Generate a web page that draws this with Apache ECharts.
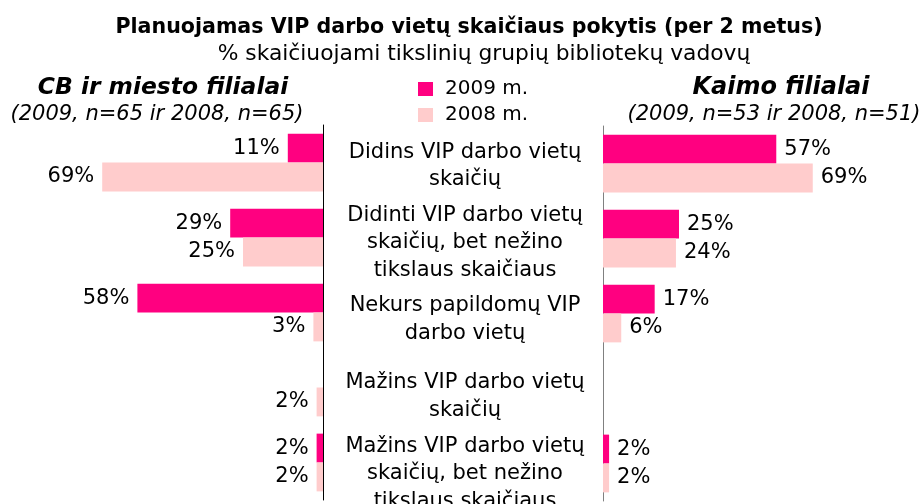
<!DOCTYPE html>
<html>
<head>
<meta charset="utf-8">
<title>VIP darbo vietos</title>
<script src="https://cdn.jsdelivr.net/npm/echarts@6/dist/echarts.min.js"></script>
<style>
  html, body { margin: 0; padding: 0; background: #fff; }
  #main { width: 921px; height: 504px; }
</style>
</head>
<body>
<div id="main"></div>
<script>
// kategorijos (iš viršaus į apačią)
var categories = [
  'Didins VIP darbo vietų\nskaičių',
  'Didinti VIP darbo vietų\nskaičių, bet nežino\ntikslaus skaičiaus',
  'Nekurs papildomų VIP\ndarbo vietų',
  'Mažins VIP darbo vietų\nskaičių',
  'Mažins VIP darbo vietų\nskaičių, bet nežino\ntikslaus skaičiaus'
];
// CB ir miesto filialai
var cb2009 = [11, 29, 58, null, 2];
var cb2008 = [69, 25, 3, 2, 2];
// Kaimo filialai
var kaimo2009 = [57, 25, 17, null, 2];
var kaimo2008 = [69, 24, 6, null, 2];

var c2009 = '#ff0080';
var c2008 = '#ffcccc';
var font = 'DejaVu Sans';

var chart = echarts.init(document.getElementById('main'));

function lbl(pos) {
  return {
    show: true,
    position: pos,
    distance: 8,
    color: '#000',
    fontFamily: font,
    fontSize: 21,
    formatter: function (p) { return p.value == null ? '' : p.value + '%'; }
  };
}

chart.setOption({
  animation: false,
  textStyle: { fontFamily: font },
  title: [
    { text: 'Planuojamas VIP darbo vietų skaičiaus pokytis (per 2 metus)', left: 464, textAlign: 'center', top: 12,
      textStyle: { fontSize: 20.6, fontWeight: 'bold', color: '#000', fontFamily: font } },
    { text: '% skaičiuojami tikslinių grupių bibliotekų vadovų', left: 479, textAlign: 'center', top: 38,
      textStyle: { fontSize: 21.8, fontWeight: 'normal', color: '#000', fontFamily: font } },
    { text: 'CB ir miesto filialai', left: 158, textAlign: 'center', top: 71,
      textStyle: { fontSize: 23.4, fontWeight: 'bold', fontStyle: 'italic', color: '#000', fontFamily: font } },
    { text: '(2009, n=65 ir 2008, n=65)', left: 152, textAlign: 'center', top: 99,
      textStyle: { fontSize: 21, fontWeight: 'normal', fontStyle: 'italic', color: '#000', fontFamily: font } },
    { text: 'Kaimo filialai', left: 776, textAlign: 'center', top: 71,
      textStyle: { fontSize: 24, fontWeight: 'bold', fontStyle: 'italic', color: '#000', fontFamily: font } },
    { text: '(2009, n=53 ir 2008, n=51)', left: 769, textAlign: 'center', top: 99,
      textStyle: { fontSize: 21, fontWeight: 'normal', fontStyle: 'italic', color: '#000', fontFamily: font } }
  ],
  legend: {
    orient: 'vertical',
    left: 413,
    top: 74,
    itemWidth: 15,
    itemHeight: 14,
    itemGap: 6,
    icon: 'rect',
    textStyle: { fontSize: 20, color: '#000', fontFamily: font, padding: [0, 0, 0, 7] },
    data: ['2009 m.', '2008 m.']
  },
  grid: [
    { left: 3, width: 320, top: 125, height: 375, outerBoundsMode: 'none' },
    { left: 603, width: 304, top: 126, height: 375, outerBoundsMode: 'none' },
    // tik kategorijų užrašams viduryje
    { left: 603, width: 304, top: 127.5, height: 384.5, outerBoundsMode: 'none' }
  ],
  xAxis: [
    { gridIndex: 0, type: 'value', min: 0, max: 100, inverse: true, show: false },
    { gridIndex: 1, type: 'value', min: 0, max: 100, show: false },
    { gridIndex: 2, type: 'value', min: 0, max: 100, show: false }
  ],
  yAxis: [
    { gridIndex: 0, type: 'category', data: categories, inverse: true, position: 'right',
      axisLine: { show: true, lineStyle: { color: '#000', width: 1 } },
      axisTick: { show: false }, axisLabel: { show: false }, splitLine: { show: false } },
    { gridIndex: 1, type: 'category', data: categories, inverse: true, position: 'left',
      axisLine: { show: true, lineStyle: { color: '#808080', width: 1 } },
      axisTick: { show: false }, axisLabel: { show: false }, splitLine: { show: false } },
    { gridIndex: 2, type: 'category', data: categories, inverse: true, position: 'left',
      axisLine: { show: false }, axisTick: { show: false }, splitLine: { show: false },
      axisLabel: { show: true, interval: 0, hideOverlap: false, align: 'center', margin: 138,
        color: '#000', fontFamily: font, fontSize: 21, lineHeight: 27.5, padding: [8, 0, 0, 0] } }
  ],
  series: [
    { name: '2009 m.', type: 'bar', xAxisIndex: 0, yAxisIndex: 0, data: cb2009,
      itemStyle: { color: c2009 }, barGap: '0%', barCategoryGap: '23%', label: lbl('left') },
    { name: '2008 m.', type: 'bar', xAxisIndex: 0, yAxisIndex: 0, data: cb2008,
      itemStyle: { color: c2008 }, barGap: '0%', barCategoryGap: '23%', label: lbl('left') },
    { name: '2009 m.', type: 'bar', xAxisIndex: 1, yAxisIndex: 1, data: kaimo2009,
      itemStyle: { color: c2009 }, barGap: '0%', barCategoryGap: '23%', label: lbl('right') },
    { name: '2008 m.', type: 'bar', xAxisIndex: 1, yAxisIndex: 1, data: kaimo2008,
      itemStyle: { color: c2008 }, barGap: '0%', barCategoryGap: '23%', label: lbl('right') }
  ]
});
</script>
</body>
</html>
